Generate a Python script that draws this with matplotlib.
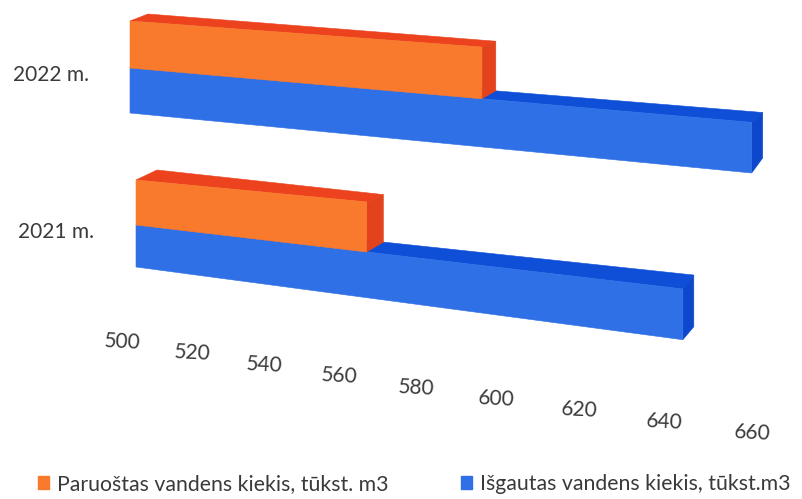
import matplotlib
matplotlib.use("Agg")
import matplotlib.pyplot as plt
from matplotlib.patches import Patch

# values
years = ["2021 m.", "2022 m."]
paruostas = [562, 590]
isgautas = [647, 659]
ticks = [500, 520, 540, 560, 580, 600, 620, 640, 660]
label_paruostas = "Paruoštas vandens kiekis, tūkst. m3"
label_isgautas = "Išgautas vandens kiekis, tūkst.m3"

ORANGE, ORANGE_TOP, ORANGE_SIDE = "#F97A2C", "#EC431E", "#E2421C"
BLUE, BLUE_TOP, BLUE_SIDE = "#2F70E6", "#0F4FD8", "#0D48CC"
TEXT = "#3A3A3A"

# skewed 3d look: per row the left edge, px per unit, and the
# y start + slope of the three front edges (top, middle, bottom)
# dy holds the depth offset (left, right) of each edge
rows = {
    "2021 m.": dict(left=136, k=3.72, y0=(180, 225, 267), s=(0.095, 0.117, 0.133),
                    dx=(21, 10), dy=((-10, -3), (-7, -14.6), (-13, -13)), label_xy=(56, 232)),
    "2022 m.": dict(left=130, k=3.91, y0=(21, 68, 113), s=(0.074, 0.0875, 0.0965),
                    dx=(18, 11), dy=((-7, -5), (-5.4, -9.9), (-15, -15)), label_xy=(51, 75)),
}
SPAN = 600  # px over which depth shrinks


def point(row, value, level, back=False):
    x = row["left"] + row["k"] * (value - ticks[0])
    y = row["y0"][level] + row["s"][level] * (x - row["left"])
    if back:
        f = min((x - row["left"]) / SPAN, 1)
        dy0, dy1 = row["dy"][level]
        x = x + row["dx"][0] + (row["dx"][1] - row["dx"][0]) * f
        y = y + dy0 + (dy1 - dy0) * f
    return x, y


def draw_box(ax, row, value, top, bottom, front, top_c, side_c):
    base = ticks[0]
    faces = [
        ([point(row, base, top), point(row, value, top),
          point(row, value, top, True), point(row, base, top, True)], top_c),
        ([point(row, value, top), point(row, value, bottom),
          point(row, value, bottom, True), point(row, value, top, True)], side_c),
        ([point(row, base, top), point(row, value, top),
          point(row, value, bottom), point(row, base, bottom)], front),
    ]
    for pts, c in faces:
        ax.fill([p[0] for p in pts], [p[1] for p in pts], color=c, lw=0.4)


fig = plt.figure(figsize=(8.03, 4.99), dpi=100)
ax = fig.add_axes([0, 0, 1, 1])
ax.set_xlim(0, 803)
ax.set_ylim(499, 0)
ax.axis("off")

for year, orange_val, blue_val in zip(years, paruostas, isgautas):
    row = rows[year]
    draw_box(ax, row, blue_val, 1, 2, BLUE, BLUE_TOP, BLUE_SIDE)
    draw_box(ax, row, orange_val, 0, 1, ORANGE, ORANGE_TOP, ORANGE_SIDE)
    ax.text(*row["label_xy"], year, ha="center", va="center", fontsize=15,
            color=TEXT, family="Lato")

# axis labels run down to the right and spread out a bit
for i, t in enumerate(ticks):
    x = 122 + 68.5 * i + 1.28 * i * i
    y = 342 + 11.4 * i
    ax.text(x, y, str(t), ha="center", va="center", fontsize=15, rotation=-3,
            color=TEXT, family="Lato")

handles = [Patch(color=ORANGE, label=label_paruostas), Patch(color=BLUE, label=label_isgautas)]
ax.legend(handles=handles, ncol=2, loc="lower left", bbox_to_anchor=(38 / 803, 5 / 499),
          frameon=False, handlelength=0.52, handleheight=0.52, handletextpad=0.38,
          columnspacing=3.4, borderaxespad=0, borderpad=0, labelcolor=TEXT,
          prop={"family": "Lato", "size": 15.3})

fig.savefig("out.png", dpi=100)
